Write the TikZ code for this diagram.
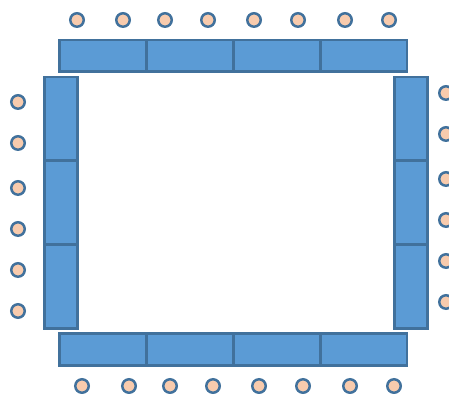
\documentclass[tikz,border=0pt]{standalone}
\usepackage{xcolor}
\usepackage{tikz}
\definecolor{tableblue}{HTML}{5B9BD5}
\definecolor{edgeblue}{HTML}{41719C}
\definecolor{seatpeach}{HTML}{F8CBAD}

\begin{document}
\begin{tikzpicture}[x=0.02cm,y=-0.02cm,
  desk/.style={draw=edgeblue,fill=tableblue,line width=1.7pt,inner sep=0pt,outer sep=0pt},
  hdesk/.style={desk,minimum width=1.74cm,minimum height=0.64cm},
  vdesk/.style={desk,minimum width=0.66cm,minimum height=1.68cm},
  seat/.style={circle,draw=edgeblue,fill=seatpeach,line width=1.4pt,inner sep=0pt,minimum size=0.27cm}]
  \useasboundingbox (0,0) rectangle (449,394);
  % tables along the top and bottom
  \foreach \i/\x in {1/102.5,2/189.5,3/276.5,4/363.5}{
    \node[hdesk] (topdesk\i) at (\x,56) {};
    \node[hdesk] (botdesk\i) at (\x,349.5) {};
  }
  % tables along the sides
  \foreach \i/\y in {1/119,2/203,3/287}{
    \node[vdesk] (leftdesk\i) at (61,\y) {};
    \node[vdesk] (rightdesk\i) at (411,\y) {};
  }
  % seats
  \foreach \x [count=\i] in {77,123,165,208,254,298,345,389}
    \node[seat] (topseat\i) at (\x,20) {};
  \foreach \x [count=\i] in {82,129,170,213,259,303,350,394}
    \node[seat] (botseat\i) at (\x,386) {};
  \foreach \y [count=\i] in {102,143,188,229,270,311}
    \node[seat] (leftseat\i) at (18,\y) {};
  \foreach \y [count=\i] in {93,134,179,220,261,302}
    \node[seat] (rightseat\i) at (446,\y) {};
\end{tikzpicture}
\end{document}
